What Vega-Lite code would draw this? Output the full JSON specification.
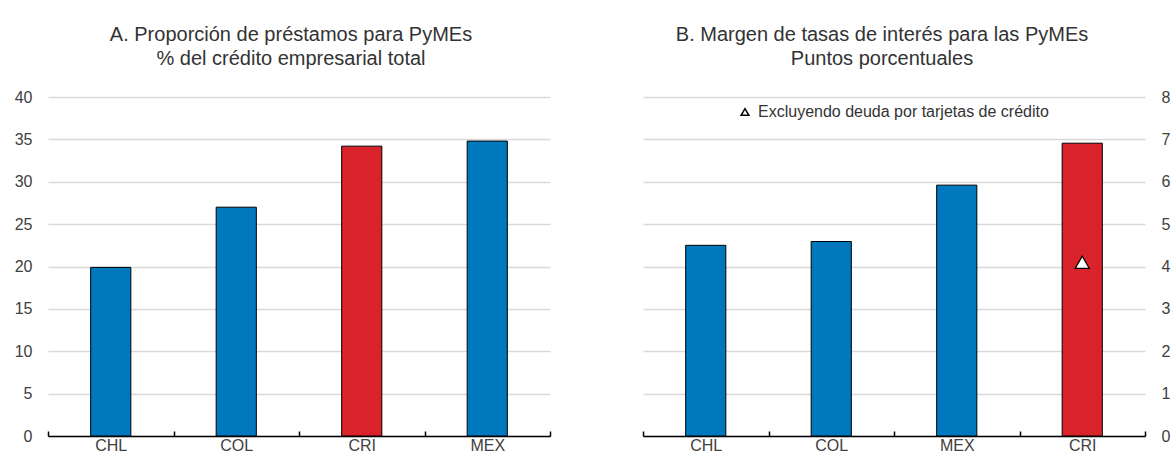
{
  "$schema": "https://vega.github.io/schema/vega-lite/v6.json",
  "background": "white",
  "padding": {"left": 14, "top": 25, "right": 4, "bottom": 4},
  "spacing": 91,
  "config": {
    "font": "Liberation Sans",
    "view": {"stroke": null},
    "title": {"font": "Liberation Sans", "fontSize": 20, "fontWeight": "normal", "color": "#333333", "lineHeight": 24, "offset": 20, "anchor": "middle"},
    "axis": {"labelFont": "Liberation Sans", "labelFontSize": 16, "labelColor": "#404040"},
    "legend": {"labelFont": "Liberation Sans"}
  },
  "datasets": {
    "a": [
      {"pais": "CHL", "valor": 19.9, "grupo": "otros"},
      {"pais": "COL", "valor": 27.0, "grupo": "otros"},
      {"pais": "CRI", "valor": 34.2, "grupo": "CRI"},
      {"pais": "MEX", "valor": 34.8, "grupo": "otros"}
    ],
    "b": [
      {"pais": "CHL", "valor": 4.5, "grupo": "otros"},
      {"pais": "COL", "valor": 4.59, "grupo": "otros"},
      {"pais": "MEX", "valor": 5.92, "grupo": "otros"},
      {"pais": "CRI", "valor": 6.91, "grupo": "CRI"}
    ],
    "b_tri": [
      {"pais": "CRI", "valor": 4.1, "serie": "Excluyendo deuda por tarjetas de crédito"}
    ]
  },
  "resolve": {"scale": {"shape": "independent"}, "legend": {"shape": "independent"}},
  "hconcat": [
    {
      "width": 502,
      "height": 339,
      "title": {"text": ["A. Proporción de préstamos para PyMEs", "% del crédito empresarial total"], "dx": -8},
      "data": {"name": "a"},
      "mark": {"type": "bar", "stroke": "black", "strokeWidth": 1, "width": {"band": 0.32}},
      "encoding": {
        "x": {
          "field": "pais", "type": "nominal", "sort": null,
          "scale": {"domain": ["CHL", "COL", "CRI", "MEX"], "paddingInner": 0, "paddingOuter": 0},
          "axis": {"title": null, "labelAngle": 0, "domainColor": "black", "domainWidth": 1.5, "tickColor": "black", "tickWidth": 1.5, "tickSize": -5, "tickBand": "extent", "grid": false, "labelPadding": 6}
        },
        "y": {
          "field": "valor", "type": "quantitative",
          "scale": {"domain": [0, 40], "nice": false},
          "axis": {"title": null, "values": [0, 5, 10, 15, 20, 25, 30, 35, 40], "domain": false, "ticks": false, "gridColor": "#d9d9d9", "gridWidth": 1.5, "labelPadding": 16}
        },
        "color": {"field": "grupo", "type": "nominal", "scale": {"domain": ["otros", "CRI"], "range": ["#0078BE", "#D9232A"]}, "legend": null}
      }
    },
    {
      "width": 502,
      "height": 339,
      "title": {"text": ["B. Margen de tasas de interés para las PyMEs", "Puntos porcentuales"], "dx": -12},
      "encoding": {
        "x": {
          "field": "pais", "type": "nominal", "sort": null,
          "scale": {"domain": ["CHL", "COL", "MEX", "CRI"], "paddingInner": 0, "paddingOuter": 0},
          "axis": {"title": null, "labelAngle": 0, "domainColor": "black", "domainWidth": 1.5, "tickColor": "black", "tickWidth": 1.5, "tickSize": -5, "tickBand": "extent", "grid": false, "labelPadding": 6}
        },
        "y": {
          "field": "valor", "type": "quantitative",
          "scale": {"domain": [0, 8], "nice": false},
          "axis": {"title": null, "orient": "right", "values": [0, 1, 2, 3, 4, 5, 6, 7, 8], "domain": false, "ticks": false, "gridColor": "#d9d9d9", "gridWidth": 1.5, "labelPadding": 16}
        }
      },
      "layer": [
        {
          "data": {"name": "b"},
          "mark": {"type": "bar", "stroke": "black", "strokeWidth": 1, "width": {"band": 0.32}},
          "encoding": {
            "color": {"field": "grupo", "type": "nominal", "scale": {"domain": ["otros", "CRI"], "range": ["#0078BE", "#D9232A"]}, "legend": null}
          }
        },
        {
          "data": {"name": "b_tri"},
          "mark": {"type": "point", "filled": true, "fill": "white", "stroke": "black", "strokeWidth": 1.2, "size": 200, "opacity": 1},
          "encoding": {
            "shape": {
              "field": "serie", "type": "nominal",
              "scale": {"range": ["triangle-up"]},
              "legend": {
                "title": null, "orient": "none", "legendX": 94, "legendY": 7, "padding": 0,
                "labelFontSize": 16, "labelColor": "#333333", "labelOffset": 5, "labelLimit": 0,
                "symbolSize": 60, "symbolType": "triangle-up",
                "encode": {"symbols": {"update": {"fill": {"value": "white"}, "stroke": {"value": "black"}, "strokeWidth": {"value": 1}, "opacity": {"value": 1}, "fillOpacity": {"value": 1}, "strokeOpacity": {"value": 1}}}}
              }
            }
          }
        }
      ]
    }
  ]
}
